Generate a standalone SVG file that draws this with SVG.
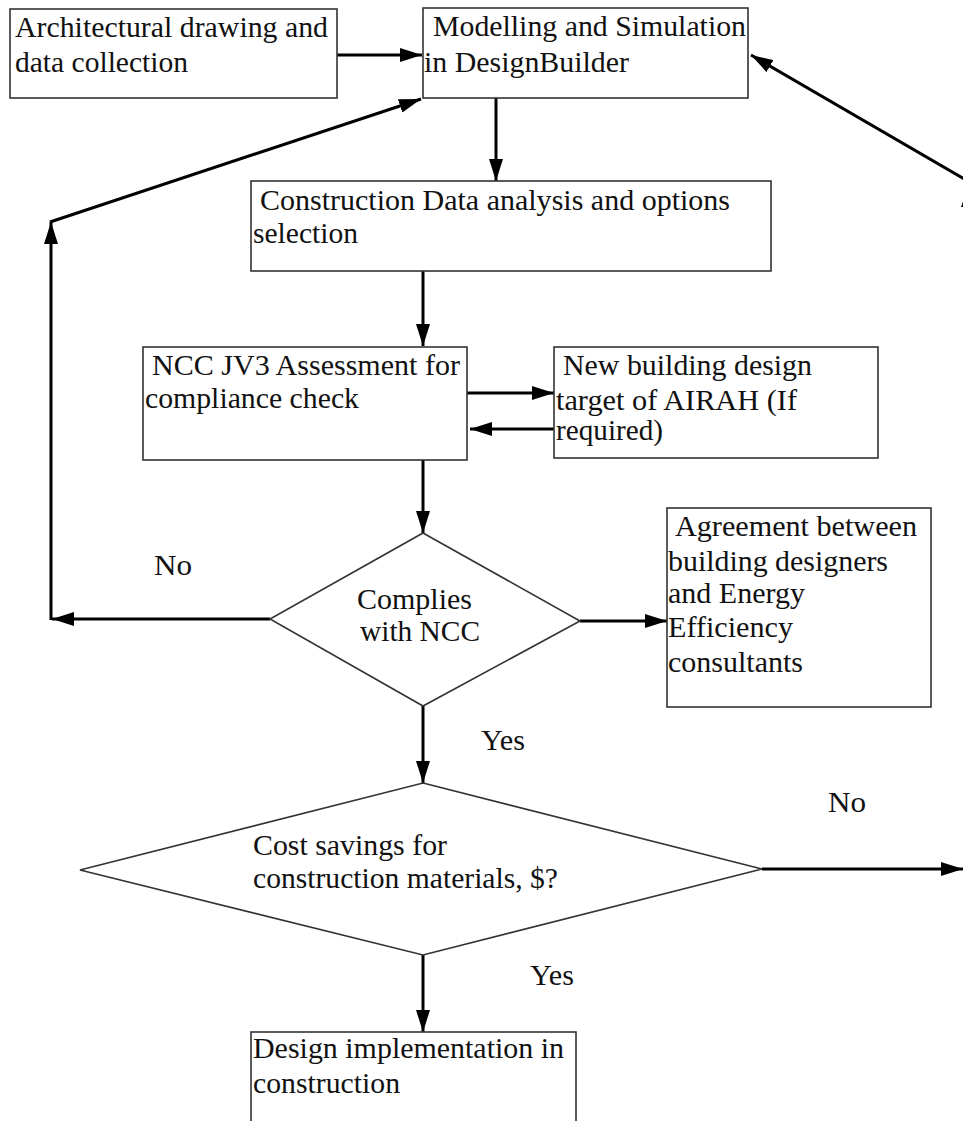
<svg xmlns="http://www.w3.org/2000/svg" width="963" height="1121" viewBox="0 0 963 1121">
<style>
.box{fill:#fff;stroke:#333;stroke-width:1.6}
.dia{fill:#fff;stroke:#333;stroke-width:1.6}
.t{font-family:"Liberation Serif","Times New Roman",serif;font-size:29px;fill:#111}
.c{fill:none;stroke:#000;stroke-width:3}
</style>
<defs>
<marker id="ah" markerUnits="userSpaceOnUse" markerWidth="22" markerHeight="14" refX="22" refY="7" orient="auto">
<path d="M0,0 L22,7 L0,14 z" fill="#000"/>
</marker>
</defs>
<rect width="963" height="1121" fill="#fff"/>
<g id="connectors">
<line class="c" x1="337" y1="55" x2="422" y2="55" marker-end="url(#ah)"/>
<line class="c" x1="496" y1="98" x2="496" y2="181" marker-end="url(#ah)"/>
<line class="c" x1="423" y1="271" x2="423" y2="346" marker-end="url(#ah)"/>
<line class="c" x1="467" y1="393" x2="554" y2="393" marker-end="url(#ah)"/>
<line class="c" x1="554" y1="429" x2="470" y2="429" marker-end="url(#ah)"/>
<line class="c" x1="423" y1="460" x2="423" y2="533" marker-end="url(#ah)"/>
<line class="c" x1="270" y1="619" x2="52" y2="619" marker-end="url(#ah)"/>
<line class="c" x1="51" y1="620" x2="51" y2="222" marker-end="url(#ah)"/>
<line class="c" x1="50" y1="222" x2="421" y2="99" marker-end="url(#ah)"/>
<line class="c" x1="580" y1="621" x2="667" y2="621" marker-end="url(#ah)"/>
<line class="c" x1="423" y1="706" x2="423" y2="783" marker-end="url(#ah)"/>
<line class="c" x1="762" y1="869" x2="963" y2="869" marker-end="url(#ah)"/>
<line class="c" x1="423" y1="955" x2="423" y2="1032" marker-end="url(#ah)"/>
<line class="c" x1="990" y1="194" x2="751" y2="55" marker-end="url(#ah)"/>
<polygon points="961,207 968,188 975,207" fill="#000"/>
</g>
<g id="n1">
<rect class="box" x="10" y="9" width="327" height="89"/>
<text class="t" x="15" y="37" textLength="313" lengthAdjust="spacingAndGlyphs">Architectural drawing and</text>
<text class="t" x="15" y="72" textLength="173" lengthAdjust="spacingAndGlyphs">data collection</text>
</g>
<g id="n2">
<rect class="box" x="423" y="8" width="325" height="90"/>
<text class="t" x="433" y="36" textLength="313" lengthAdjust="spacingAndGlyphs">Modelling and Simulation</text>
<text class="t" x="424" y="72" textLength="205" lengthAdjust="spacingAndGlyphs">in DesignBuilder</text>
</g>
<g id="n3">
<rect class="box" x="251" y="181" width="520" height="90"/>
<text class="t" x="260" y="210" textLength="470" lengthAdjust="spacingAndGlyphs">Construction Data analysis and options</text>
<text class="t" x="253" y="243" textLength="105" lengthAdjust="spacingAndGlyphs">selection</text>
</g>
<g id="n4">
<rect class="box" x="143" y="347" width="324" height="113"/>
<text class="t" x="152" y="375" textLength="308" lengthAdjust="spacingAndGlyphs">NCC JV3 Assessment for</text>
<text class="t" x="145" y="408" textLength="214" lengthAdjust="spacingAndGlyphs">compliance check</text>
</g>
<g id="n5">
<rect class="box" x="554" y="347" width="324" height="111"/>
<text class="t" x="563" y="375" textLength="249" lengthAdjust="spacingAndGlyphs">New building design</text>
<text class="t" x="556" y="410" textLength="241" lengthAdjust="spacingAndGlyphs">target of AIRAH (If</text>
<text class="t" x="556" y="440" textLength="107" lengthAdjust="spacingAndGlyphs">required)</text>
</g>
<g id="d1">
<polygon class="dia" points="423,533 580,621 423,706 270,619"/>
<text class="t" x="357" y="609" textLength="115" lengthAdjust="spacingAndGlyphs">Complies</text>
<text class="t" x="360" y="641" textLength="120" lengthAdjust="spacingAndGlyphs">with NCC</text>
</g>
<g id="n6">
<rect class="box" x="667" y="508" width="264" height="199"/>
<text class="t" x="675" y="536" textLength="242" lengthAdjust="spacingAndGlyphs">Agreement between</text>
<text class="t" x="668" y="571" textLength="220" lengthAdjust="spacingAndGlyphs">building designers</text>
<text class="t" x="668" y="603" textLength="137" lengthAdjust="spacingAndGlyphs">and Energy</text>
<text class="t" x="668" y="637" textLength="125" lengthAdjust="spacingAndGlyphs">Efficiency</text>
<text class="t" x="668" y="672" textLength="135" lengthAdjust="spacingAndGlyphs">consultants</text>
</g>
<g id="d2">
<polygon class="dia" points="423,783 762,869 423,955 80,870"/>
<text class="t" x="253" y="855" textLength="194" lengthAdjust="spacingAndGlyphs">Cost savings for</text>
<text class="t" x="253" y="888" textLength="305" lengthAdjust="spacingAndGlyphs">construction materials, $?</text>
</g>
<g id="n7">
<rect class="box" x="251" y="1032" width="325" height="110"/>
<text class="t" x="253" y="1058" textLength="311" lengthAdjust="spacingAndGlyphs">Design implementation in</text>
<text class="t" x="253" y="1093" textLength="147" lengthAdjust="spacingAndGlyphs">construction</text>
</g>
<g id="labels">
<text class="t" x="154" y="575" textLength="38" lengthAdjust="spacingAndGlyphs">No</text>
<text class="t" x="481" y="750" textLength="44" lengthAdjust="spacingAndGlyphs">Yes</text>
<text class="t" x="828" y="812" textLength="38" lengthAdjust="spacingAndGlyphs">No</text>
<text class="t" x="530" y="985" textLength="44" lengthAdjust="spacingAndGlyphs">Yes</text>
</g>
</svg>
